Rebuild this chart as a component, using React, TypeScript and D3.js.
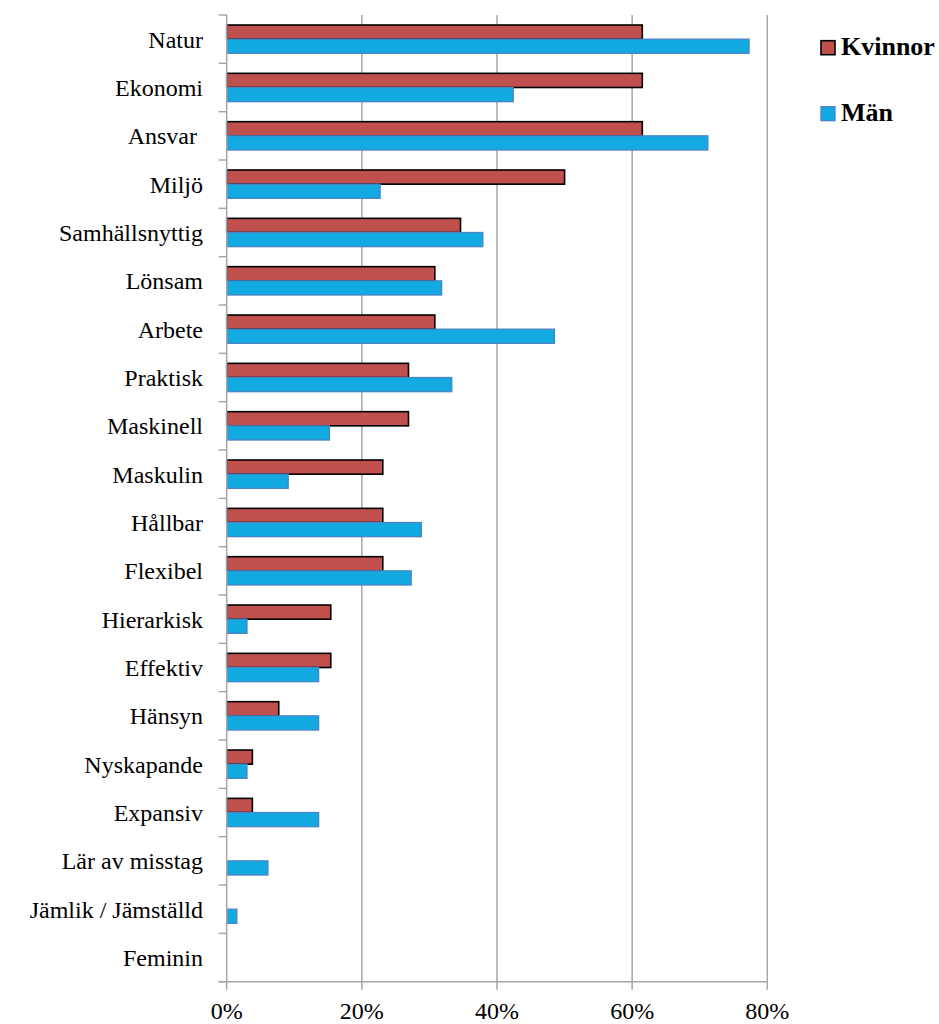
import React from "react";
import * as d3 from "d3";

const categories = [
  "Natur", "Ekonomi", "Ansvar ", "Miljö", "Samhällsnyttig", "Lönsam", "Arbete",
  "Praktisk", "Maskinell", "Maskulin", "Hållbar", "Flexibel", "Hierarkisk",
  "Effektiv", "Hänsyn", "Nyskapande", "Expansiv", "Lär av misstag",
  "Jämlik / Jämställd", "Feminin",
];
const kvinnor = [61.5, 61.5, 61.5, 50.0, 34.6, 30.8, 30.8, 26.9, 26.9, 23.1, 23.1, 23.1, 15.4, 15.4, 7.7, 3.8, 3.8, 0, 0, 0];
const man = [77.3, 42.4, 71.2, 22.7, 37.9, 31.8, 48.5, 33.3, 15.2, 9.1, 28.8, 27.3, 3.0, 13.6, 13.6, 3.0, 13.6, 6.1, 1.5, 0];
const seriesNames = ["Kvinnor", "Män"];
const xTicks = [0, 20, 40, 60, 80];

const W = 939;
const H = 1024;
const left = 226.7;
const right = 767.3;
const top = 15;
const bottom = 981.7;
const font = "Liberation Serif";
const labelSize = 24;
const gridColor = "#a6a6a6";
const fills = ["#c0504d", "#13a9e1"];
const strokes = ["#000000", "#4a84c4"];
const strokeWidths = [1.6, 1.3];

export default function App() {
  const x = d3.scaleLinear().domain([0, 80]).range([left, right]);
  const y = d3
    .scaleBand<string>()
    .domain(categories)
    .range([top, bottom])
    .paddingInner(0.414)
    .paddingOuter(0.207);
  const inner = d3.scaleBand<string>().domain(seriesNames).range([0, y.bandwidth()]);
  const step = y.step();
  const boundaries = d3.range(categories.length + 1).map((i) => top + i * step);
  const data = [kvinnor, man];

  return (
    <svg
      width={W}
      height={H}
      style={{ position: "absolute", left: 0, top: 0, background: "#fff" }}
    >
      <rect x={0} y={0} width={W} height={H} fill="#fff" />
      {xTicks.slice(1).map((t) => (
        <line key={"g" + t} x1={x(t)} x2={x(t)} y1={top} y2={bottom} stroke={gridColor} strokeWidth={1.5} />
      ))}
      {categories.map((c, i) =>
        seriesNames.map((s, j) => {
          const v = data[j][i];
          if (v <= 0) return null;
          return (
            <rect
              key={c + s}
              x={x(0)}
              y={(y(c) as number) + (inner(s) as number)}
              width={x(v) - x(0)}
              height={inner.bandwidth()}
              fill={fills[j]}
              stroke={strokes[j]}
              strokeWidth={strokeWidths[j]}
            />
          );
        })
      )}
      <line x1={left} x2={left} y1={top} y2={bottom} stroke={gridColor} strokeWidth={1.5} />
      <line x1={left - 8} x2={right} y1={bottom} y2={bottom} stroke={gridColor} strokeWidth={1.5} />
      {boundaries.map((b, i) => (
        <line key={"yt" + i} x1={left - 8} x2={left} y1={b} y2={b} stroke={gridColor} strokeWidth={1.5} />
      ))}
      {xTicks.map((t) => (
        <line key={"xt" + t} x1={x(t)} x2={x(t)} y1={bottom} y2={bottom + 8} stroke={gridColor} strokeWidth={1.5} />
      ))}
      {categories.map((c) => (
        <text
          key={"l" + c}
          x={203}
          y={(y(c) as number) - step * 0.207 + step / 2 + 8.5}
          textAnchor="end"
          fontFamily={font}
          fontSize={labelSize}
          fill="#000"
          style={{ whiteSpace: "pre" }}
        >
          {c}
        </text>
      ))}
      {xTicks.map((t) => (
        <text
          key={"xl" + t}
          x={x(t)}
          y={1019}
          textAnchor="middle"
          fontFamily={font}
          fontSize={labelSize}
          fill="#000"
        >
          {d3.format("d")(t) + "%"}
        </text>
      ))}
      {seriesNames.map((s, j) => (
        <g key={"lg" + s} transform={`translate(821, ${40.7 + j * 66})`}>
          <rect x={0} y={0} width={14} height={14} fill={fills[j]} stroke={strokes[j]} strokeWidth={strokeWidths[j]} />
          <text x={20} y={14.5} fontFamily={font} fontSize={26} fontWeight="bold" fill="#000">
            {s}
          </text>
        </g>
      ))}
    </svg>
  );
}
